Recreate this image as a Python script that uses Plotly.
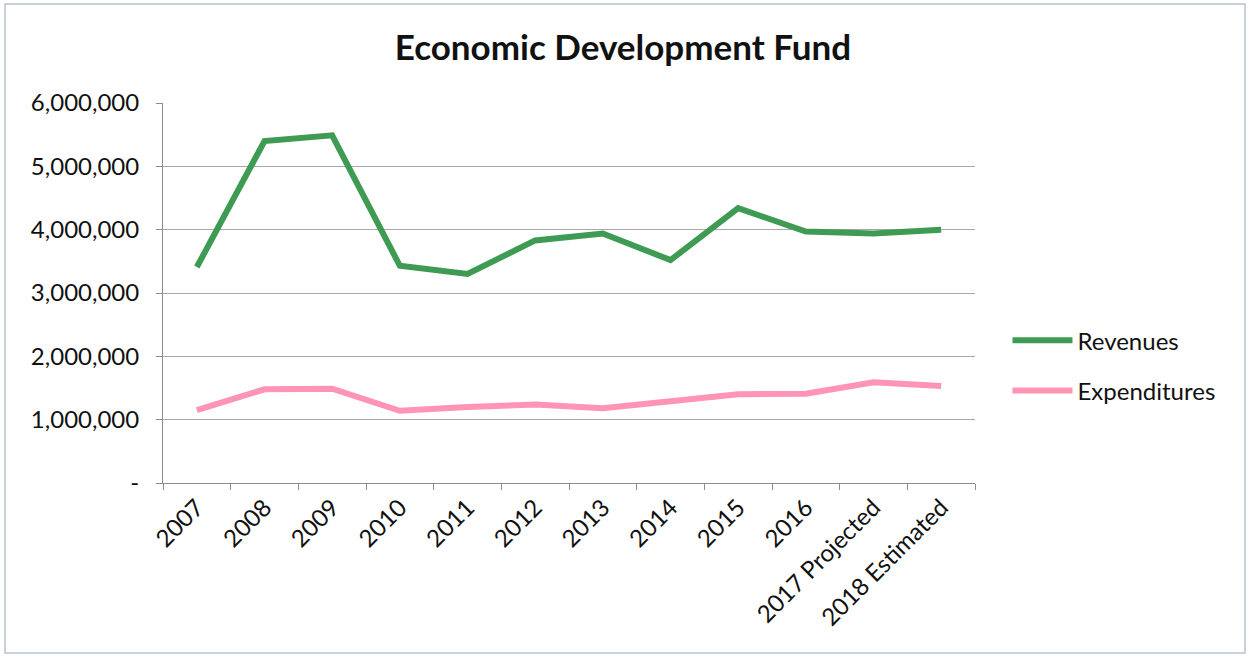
import plotly.graph_objects as go

years = ["2007", "2008", "2009", "2010", "2011", "2012", "2013", "2014",
         "2015", "2016", "2017 Projected", "2018 Estimated"]
revenues = [3410000, 5400000, 5490000, 3430000, 3300000, 3830000, 3940000,
            3520000, 4340000, 3970000, 3940000, 4000000]
expenditures = [1150000, 1480000, 1490000, 1140000, 1200000, 1240000, 1180000,
                1280000, 1400000, 1410000, 1590000, 1530000]
y_ticks = [0, 1000000, 2000000, 3000000, 4000000, 5000000, 6000000]
y_tick_text = ["-", "1,000,000", "2,000,000", "3,000,000", "4,000,000",
               "5,000,000", "6,000,000"]

FONT = "Lato, 'Open Sans', sans-serif"

fig = go.Figure()
fig.add_trace(go.Scatter(x=years, y=revenues, name="Revenues", mode="lines",
                         legendgroup="rev",
                         line=dict(color="#3f9b53", width=6)))
fig.add_trace(go.Scatter(x=years, y=expenditures, name="Expenditures", mode="lines",
                         legendgroup="exp",
                         line=dict(color="#ff94b4", width=6)))

fig.update_layout(
    width=1251, height=657,
    margin=dict(l=163, r=276, t=103, b=174),
    paper_bgcolor="white", plot_bgcolor="white",
    font=dict(family=FONT, color="#1a1a1a"),
    title=dict(text="<b>Economic Development Fund</b>", x=0.498, xanchor="center",
               y=0.927, yanchor="middle", font=dict(size=35, family=FONT, color="#111111")),
    showlegend=True,
    legend=dict(x=1.04, xanchor="left", y=0.309, yanchor="middle",
                font=dict(size=24, family=FONT, color="#111111"),
                itemwidth=60, traceorder="grouped", tracegroupgap=16,
                bgcolor="rgba(0,0,0,0)"),
    shapes=[dict(type="rect", xref="paper", yref="paper",
                 x0=-163/812 + 5/812, x1=1 + 270/812,
                 y0=-174/380 + 4/380, y1=1 + 99/380,
                 line=dict(color="#b8c4d0", width=1.5))],
)

fig.update_xaxes(
    type="category", tickson="boundaries", ticks="outside", ticklen=6,
    tickcolor="#8c8c8c", showline=True, linecolor="#8c8c8c", linewidth=1,
    showgrid=False, tickangle=-45, tickfont=dict(size=24, family=FONT, color="#111111"),
    range=[-0.5, 11.5],
)
fig.update_yaxes(
    range=[0, 6000000], tickvals=y_ticks, ticktext=y_tick_text,
    ticks="outside", ticklen=6, tickcolor="#8c8c8c", ticklabelstandoff=12,
    showline=True, linecolor="#8c8c8c", linewidth=1,
    showgrid=True, gridcolor="#a8a8a8", gridwidth=1, zeroline=False,
    tickfont=dict(size=24, family=FONT, color="#111111"),
)

fig.write_html("out.html")
